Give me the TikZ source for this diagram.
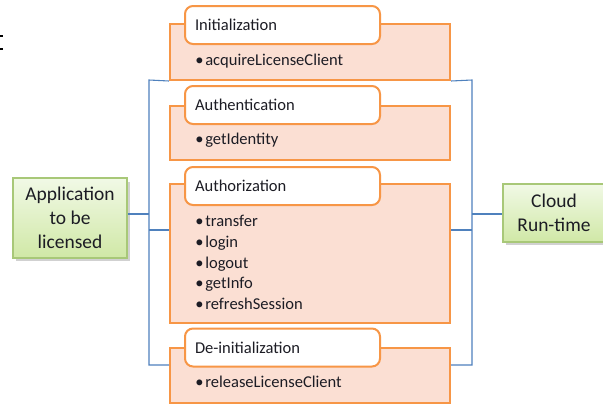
\documentclass[tikz,border=0pt]{standalone}
\usepackage{fontspec}
\setmainfont{Carlito}
\definecolor{orng}{HTML}{F79646}
\definecolor{orfill}{HTML}{FBDFD3}
\definecolor{blu}{HTML}{4F81BD}
\definecolor{gtop}{HTML}{F1F9E6}
\definecolor{gbot}{HTML}{D0E8A6}
\definecolor{gbord}{HTML}{A8C878}
\definecolor{txt}{HTML}{1C1C24}
\tikzset{
  grp/.style={draw=orng, line width=1.5pt, fill=orfill, minimum width=210pt, inner sep=0pt},
  hdr/.style={draw=orng, line width=1.5pt, fill=white, rounded corners=6pt, minimum width=146.25pt,
    minimum height=28.5pt, inner xsep=7.5pt, text width=131.25pt, align=left,
    font=\fontsize{12.4}{15}\selectfont, text=txt},
  items/.style={anchor=west, align=left, inner sep=0pt, font=\fontsize{12.4}{15.6}\selectfont, text=txt},
  actor/.style={draw=gbord, line width=0.8pt, top color=gtop, bottom color=gbot, align=center,
    font=\fontsize{14.6}{18}\selectfont, text=txt, inner sep=0pt},
  shade/.style={fill=black, opacity=0.18, draw=none},
  conn/.style={draw=blu, line width=0.8pt},
}
\newcommand{\bul}{\makebox[7.5pt][l]{•}}
\begin{document}
\begin{tikzpicture}[x=0.75pt,y=-0.75pt]
\clip (0,0) rectangle (603,405);
\fill[white] (0,0) rectangle (603,405);
% stray fragment at left edge
\fill[black] (0,35.3) rectangle (3,37);
\fill[black] (0,48.3) rectangle (3,50);

% groups
\node[grp, minimum height=42pt] (initO) at (310,52) {};
\node[hdr] (initH) at (282.5,25) {Initialization};
\node[items] (initL) at (195,61) {\bul acquireLicenseClient};

\node[grp, minimum height=40.5pt] (authO) at (310,133) {};
\node[hdr] (authH) at (282.5,105) {Authentication};
\node[items] (authL) at (195,140) {\bul getIdentity};

\node[grp, minimum height=104.25pt] (azO) at (310,253.5) {};
\node[hdr] (azH) at (282.5,186) {Authorization};
\node[items] (azL) at (195,262.5) {\bul transfer\\\bul login\\\bul logout\\\bul getInfo\\\bul refreshSession};

\node[grp, minimum height=41.25pt] (deO) at (310,375.5) {};
\node[hdr] (deH) at (282.5,347.5) {De-initialization};
\node[items] (deL) at (195,382) {\bul releaseLicenseClient};

% actors
\fill[shade] (16,182) rectangle (130,261);
\node[actor, minimum width=85.5pt, minimum height=60pt] (app) at (70,218) {Application\\to be\\licensed};
\fill[shade] (506,188) rectangle (610,245);
\node[actor, minimum width=76.5pt, minimum height=43.5pt] (cloud) at (554,213) {Cloud\\Run-time};

% buses
\coordinate (lt) at (149,80);
\coordinate (lm) at (149,230);
\coordinate (lb) at (149,365);
\coordinate (la) at (149,214);
\coordinate (rt) at (472,80);
\coordinate (rm) at (472,230);
\coordinate (rb) at (472,365);
\coordinate (ra) at (472,214);

\draw[conn] (initO.south west) -- (lt) -- (lb) -- (lb -| deO.west);
\draw[conn] (lm) -- (lm -| azO.west);
\draw[conn] (app.east |- la) -- (la);
\draw[conn] (initO.south east) -- (rt) -- (rb) -- (rb -| deO.east);
\draw[conn] (rm) -- (rm -| azO.east);
\draw[conn] (ra) -- (cloud.west |- ra);
\end{tikzpicture}
\end{document}
